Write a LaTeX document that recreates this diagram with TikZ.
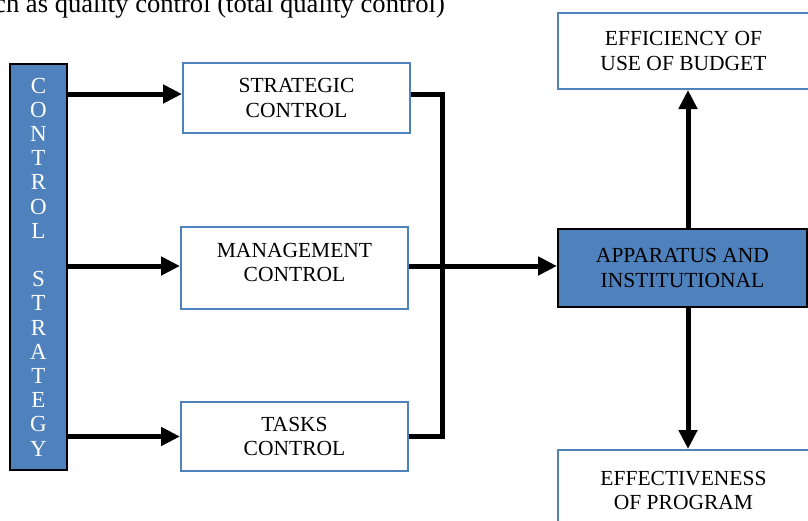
\documentclass[tikz,border=0pt]{standalone}
\usepackage{fontspec}
\setmainfont{Liberation Serif}
\usetikzlibrary{arrows.meta}
\definecolor{boxblue}{HTML}{4F81BD}

\begin{document}
\begin{tikzpicture}[x=1pt,y=-1pt,
		every node/.style={font=\fontsize{21.5}{24.2}\selectfont,align=center,inner sep=0pt},
		plainbox/.style={draw=boxblue,line width=2pt,fill=white},
		bluebox/.style={draw=black,line width=2pt,fill=boxblue},
		link/.style={line width=5pt,-{Stealth[inset=0pt,length=19pt,width=18pt]}}]
	\useasboundingbox (0,0) rectangle (808,520);
	\node[anchor=base west,font=\fontsize{26.6}{30}\selectfont] (top) at (-6,12) {ch as quality control (total quality control)};
	% left column
	\node[bluebox,minimum width=57pt,minimum height=406pt,text=white,font=\fontsize{23}{24.2}\selectfont] (cs) at (38.5,267)
		{C\\O\\N\\T\\R\\O\\L\\ \\S\\T\\R\\A\\T\\E\\G\\Y};
	% middle column
	\node[plainbox,minimum width=227pt,minimum height=70pt] (strat) at (296.5,98) {STRATEGIC\\CONTROL};
	\node[plainbox,minimum width=227pt,minimum height=82pt] (mgmt) at (294.5,268) {MANAGEMENT\\CONTROL\\[-12.2pt]\mbox{}};
	\node[plainbox,minimum width=227pt,minimum height=69pt] (task) at (294.5,436.5) {TASKS\\CONTROL};
	% right column
	\node[bluebox,minimum width=249pt,minimum height=78pt] (app) at (682.5,268) {APPARATUS AND\\INSTITUTIONAL};
	\node[plainbox,minimum width=251pt,minimum height=76pt] (eff) at (683.5,51) {EFFICIENCY OF\\USE OF BUDGET};
	\node[plainbox,minimum width=251pt,minimum height=78pt,anchor=north] (prog) at (683.5,449) {\\[-7pt]EFFECTIVENESS\\OF PROGRAM};
	\path[link]
		([yshift=4pt]cs.east |- strat.west) edge ([yshift=4pt]strat.west)
		([yshift=2pt]cs.east |- mgmt.west) edge ([yshift=2pt]mgmt.west)
		(cs.east |- task.west) edge (task.west)
		([yshift=2pt]mgmt.east) edge ([yshift=2pt]app.west)
		([xshift=5.5pt]app.north) edge ([xshift=4.5pt]eff.south)
		([xshift=5.5pt]app.south) edge ([xshift=4.5pt]prog.north);
	\draw[line width=5pt] ([yshift=4pt]strat.east) -- ++(31,0) |- (task.east);
\end{tikzpicture}
\end{document}
